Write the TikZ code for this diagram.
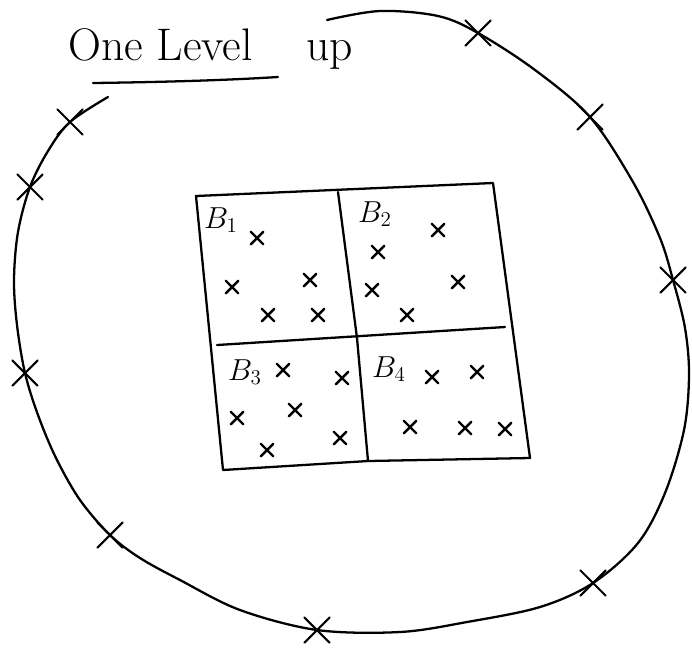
\documentclass[tikz,border=0pt]{standalone}
\usepackage{fontspec}
\usetikzlibrary{shapes.misc,positioning}

\begin{document}
\begin{tikzpicture}[x=0.02cm,y=-0.02cm,line width=1.3pt,line cap=round,line join=round,
  bigx/.style={draw,cross out,inner sep=0pt,minimum size=0.46cm,line width=1.2pt},
  smallx/.style={draw,cross out,inner sep=0pt,minimum size=0.2cm,line width=1.4pt},
  blab/.style={font=\fontsize{18}{20}\selectfont,inner sep=0pt}]
\useasboundingbox (0,0) rectangle (692,650);
% title
\node[anchor=base west,inner sep=0pt,font=\fontsize{26}{30}\selectfont] (title) at (67,60) {One Level};
\node[anchor=base west,inner sep=0pt,font=\fontsize{26}{30}\selectfont] (up) at (305,60) {up};
\draw (93,83) .. controls (170,82) and (230,80) .. (278,77);
% outer region
\draw plot[smooth,tension=0.55] coordinates {(327,20) (380,11) (438,16) (478,33) (535,70)
  (590,117) (633,182) (660,238) (673,280) (685,328) (689,375) (684,430) (665,493)
  (638,543) (593,583) (540,607) (467,622) (400,632) (317,630) (240,610) (180,580)
  (140,558) (110,535) (80,500) (56,458) (38,415) (25,373) (17,325) (14,280) (18,232)
  (30,187) (48,151) (70,122) (108,97)};
\foreach \i/\x/\y in {1/478/33,2/590/117,3/673/280,4/593/583,5/317/630,
                      6/110/535,7/25/373,8/30/187,9/70/122}
  \node[bigx] (p\i) at (\x,\y) {};
% the four blocks
\coordinate (nw) at (196,196);
\coordinate (ne) at (493,183);
\coordinate (se) at (530,458);
\coordinate (sw) at (223,470);
\coordinate (nmid) at (338,192);
\coordinate (smid) at (368,461);
\coordinate (wmid) at (217,345);
\coordinate (emid) at (505,327);
\draw (nw) -- (ne) -- (se) -- (smid) -- (sw) -- cycle;
\draw (nmid) -- (357,338) -- (smid);
\draw (wmid) -- (emid);
\node[blab] (b1) at (221,220) {$B_1$};
\node[blab] (b2) at (375,214) {$B_2$};
\node[blab] (b3) at (245,372) {$B_3$};
\node[blab] (b4) at (389,369) {$B_4$};
\foreach \i/\x/\y in {1/257/238,2/232/287,3/310/280,4/268/315,5/318/315,
                      6/378/252,7/438/230,8/372/290,9/458/282,10/407/315,
                      11/283/370,12/342/378,13/237/418,14/295/410,15/267/450,16/340/438,
                      17/432/377,18/477/372,19/410/427,20/465/428,21/505/429}
  \node[smallx] (q\i) at (\x,\y) {};
\end{tikzpicture}
\end{document}
